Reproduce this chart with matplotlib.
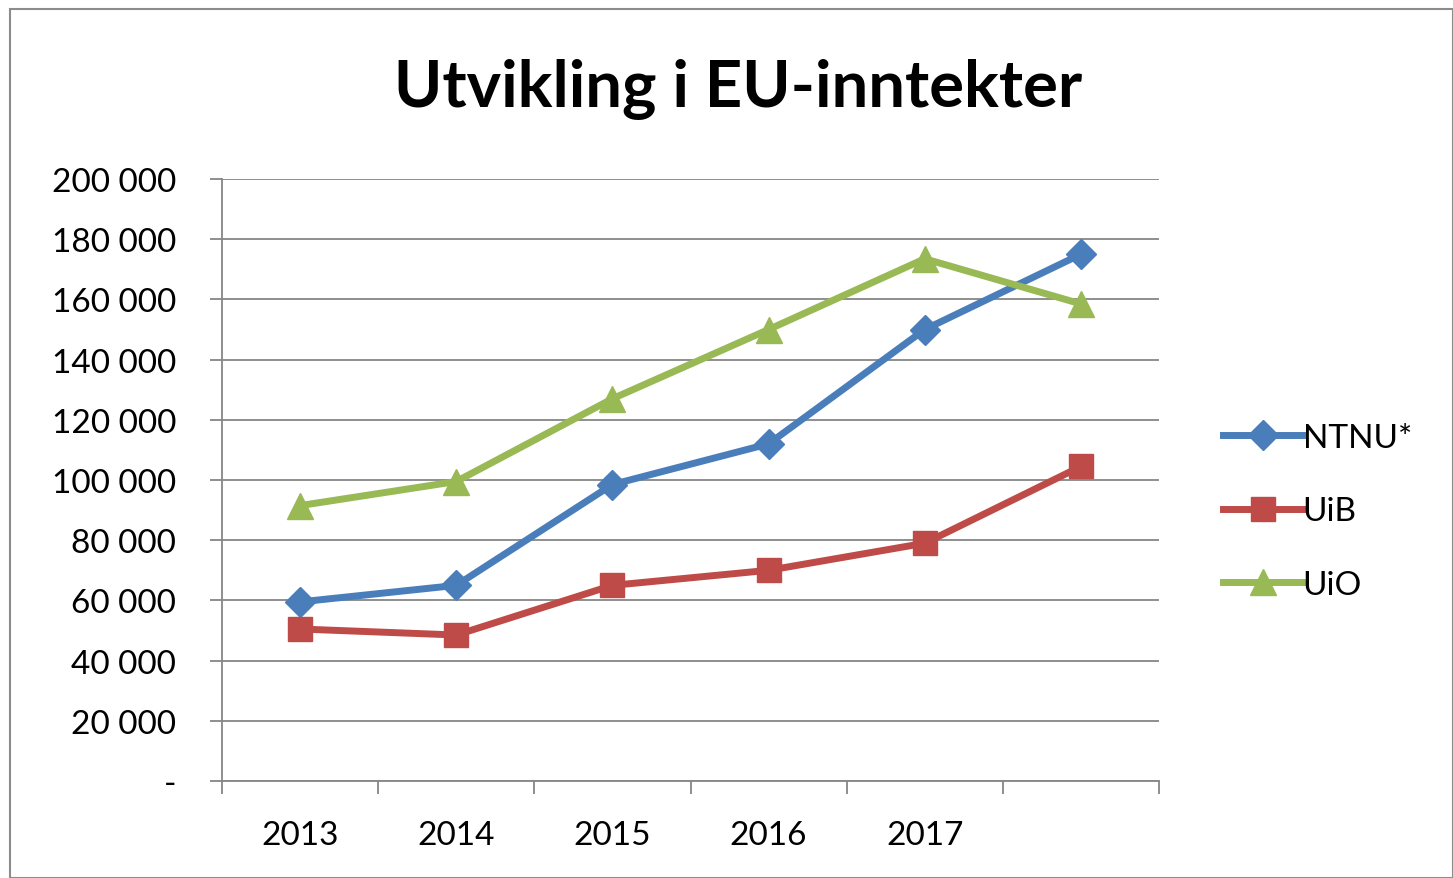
import matplotlib
matplotlib.use("Agg")
import matplotlib.pyplot as plt
from matplotlib.ticker import FuncFormatter
from matplotlib.patches import Rectangle

years = ["2013", "2014", "2015", "2016", "2017", ""]
ntnu = [59500, 65000, 98500, 112000, 150000, 175000]
uib = [50500, 48500, 65000, 70000, 79000, 104500]
uio = [91500, 99500, 127000, 150000, 173500, 158500]

series = [
    ("NTNU*", ntnu, "#4A7EBB", "D", 15),
    ("UiB", uib, "#BE4B48", "s", 17),
    ("UiO", uio, "#98B954", "^", 19),
]

plt.rcParams["font.family"] = ["Lato", "DejaVu Sans"]

fig = plt.figure(figsize=(14.53, 8.79), dpi=100)
fig.patch.set_facecolor("white")
fig.patches.append(Rectangle((10 / 1453, 0), 1 - 10 / 1453, 1 - 10 / 879,
                             transform=fig.transFigure, fill=False,
                             edgecolor="#8c8c8c", lw=1.5))

ax = fig.add_axes([222 / 1453, 1 - 782 / 879, (1159 - 222) / 1453, (782 - 180) / 879])

x = list(range(len(years)))
for name, vals, color, marker, ms in series:
    ax.plot(x, vals, color=color, lw=5, marker=marker, markersize=ms,
            markeredgecolor=color, label=name, solid_joinstyle="round")

ax.set_ylim(0, 200000)
ax.set_yticks(range(0, 200001, 20000))
ax.yaxis.set_major_formatter(FuncFormatter(
    lambda v, p: "-" if v == 0 else f"{int(v):,}".replace(",", " ")))
ax.grid(axis="y", color="#868686", lw=1.3)
ax.set_axisbelow(True)

ax.set_xlim(-0.5, len(years) - 0.5)
ax.set_xticks([i - 0.5 for i in range(len(years) + 1)])
ax.set_xticklabels([])
ax.set_xticks(x, minor=True)
ax.set_xticklabels(years, minor=True)
ax.tick_params(axis="x", which="major", length=9, width=1.3, color="#868686")
ax.tick_params(axis="x", which="minor", length=0, pad=28, labelsize=24)
ax.tick_params(axis="y", length=9, width=1.3, color="#868686", pad=24, labelsize=24)

for side in ["top", "right"]:
    ax.spines[side].set_visible(False)
for side in ["left", "bottom"]:
    ax.spines[side].set_color("#868686")
    ax.spines[side].set_linewidth(1.3)

fig.text(738 / 1453, 1 - 90 / 879, "Utvikling i EU-inntekter", ha="center", va="center",
         fontsize=47, fontweight="bold")

leg = ax.legend(loc="center left", bbox_to_anchor=(1.036, 0.448), frameon=False,
                fontsize=24, handlelength=2.4, handletextpad=0.0, labelspacing=1.3)

fig.savefig("out.png", dpi=100)
